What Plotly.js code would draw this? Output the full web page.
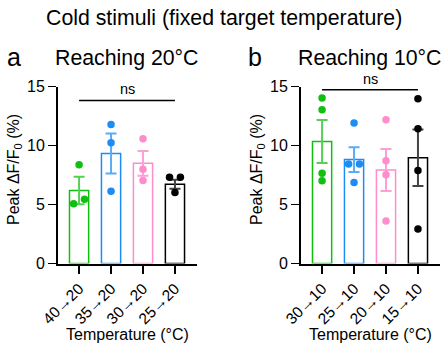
<!DOCTYPE html>
<html>
<head>
<meta charset="utf-8">
<script src="https://cdn.plot.ly/plotly-3.0.1.min.js"></script>
<style>html,body{margin:0;padding:0;background:#fff;}#chart{width:444px;height:348px;}</style>
</head>
<body>
<div id="chart"></div>
<script>
// ---- data ----
const categoriesA = ["40→20", "35→20", "30→20", "25→20"];
const categoriesB = ["30→10", "25→10", "20→10", "15→10"];
const meansA = [6.2, 9.33, 8.5, 6.73];
const semA = [1.17, 1.7, 1.05, 0.38];
const meansB = [10.35, 8.82, 7.93, 8.97];
const semB = [1.83, 1.05, 1.78, 2.4];
const pointsA = [
  [8.37, 5.06, 5.45],
  [11.79, 10.24, 6.13],
  [10.58, 8.0, 7.04],
  [7.32, 7.32, 6.02]
];
const pointsB = [
  [14.03, 13.04, 7.66, 7.03],
  [11.91, 8.45, 8.45, 6.87],
  [12.19, 8.71, 7.52, 3.61],
  [13.98, 11.43, 7.89, 2.93]
];
const sigLabel = ["ns", "ns"];
const sigLevel = [13.83, 14.74];
const panelTitles = ["Reaching 20°C", "Reaching 10°C"];
const panelLetters = ["a", "b"];
const mainTitle = "Cold stimuli (fixed target temperature)";
const yTitle = "Peak ΔF/F<sub>0</sub> (%)";
const xTitle = "Temperature (°C)";

// ---- styles ----
const colors = ["#10bf10", "#1e8cf5", "#ff8ccc", "#000000"];
const errColors = ["#55d055", "#5aacf7", "#ff9fd4", "#444444"];
const FONT = "Liberation Sans, Arial, sans-serif";

function jitter(vals) {
  // spread points that would overlap (values within 0.5)
  const off = vals.map(() => 0);
  const used = vals.map(() => false);
  for (let i = 0; i < vals.length; i++) {
    if (used[i]) continue;
    const grp = [i];
    for (let j = i + 1; j < vals.length; j++) {
      if (!used[j] && Math.abs(vals[j] - vals[i]) < 0.5) grp.push(j);
    }
    if (grp.length > 1) {
      grp.forEach((k, n) => { used[k] = true; off[k] = (n - (grp.length - 1) / 2) * 0.34; });
    }
  }
  return off;
}

const traces = [];
const panels = [
  {cats: categoriesA, means: meansA, sem: semA, pts: pointsA, xa: "x", ya: "y"},
  {cats: categoriesB, means: meansB, sem: semB, pts: pointsB, xa: "x2", ya: "y2"}
];
panels.forEach(p => {
  p.cats.forEach((c, i) => {
    traces.push({
      type: "bar", x: [i], y: [p.means[i]], width: 0.6,
      xaxis: p.xa, yaxis: p.ya,
      marker: {color: "rgba(255,255,255,0)", line: {color: colors[i], width: 1.5}},
      error_y: {type: "data", array: [p.sem[i]], visible: true, color: errColors[i], thickness: 2, width: 5.5},
      showlegend: false, hoverinfo: "skip"
    });
  });
  p.cats.forEach((c, i) => {
    const off = jitter(p.pts[i]);
    traces.push({
      type: "scatter", mode: "markers",
      x: p.pts[i].map((v, k) => i + off[k]), y: p.pts[i],
      xaxis: p.xa, yaxis: p.ya,
      marker: {color: colors[i], size: 7.5},
      cliponaxis: false, showlegend: false, hoverinfo: "skip"
    });
  });
});

function xax(domain, cats) {
  return {
    domain: domain, range: [-0.66, 3.69], fixedrange: true,
    tickmode: "array", tickvals: [0, 1, 2, 3], ticktext: cats,
    tickangle: -45, ticks: "outside", ticklen: 8, tickwidth: 1.5, tickcolor: "#000",
    showline: true, linecolor: "#000", linewidth: 2, showgrid: false, zeroline: false,
    tickfont: {family: FONT, size: 15.5, color: "#000"}
  };
}
function yax(anchor) {
  return {
    domain: [0.2428, 0.7509], range: [0, 15], anchor: anchor,
    tickmode: "array", tickvals: [0, 5, 10, 15],
    ticks: "outside", ticklen: 8, tickwidth: 1.5, tickcolor: "#000",
    showline: true, linecolor: "#000", linewidth: 2, showgrid: false, zeroline: false,
    tickfont: {family: FONT, size: 16, color: "#000"}
  };
}

const px = v => v / 444, py = v => (348 - v) / 348;
const ann = [];
const xCenters = [127.5, 370.5];
const yTitleX = [14, 257];
const letterX = [5, 246];
panels.forEach((p, k) => {
  ann.push({text: panelLetters[k], x: px(letterX[k]), y: py(57), xref: "paper", yref: "paper",
    xanchor: "left", yanchor: "middle", showarrow: false, font: {family: FONT, size: 25, color: "#000"}});
  ann.push({text: panelTitles[k], x: px(xCenters[k] - 1.5), y: py(58), xref: "paper", yref: "paper",
    xanchor: "center", yanchor: "middle", showarrow: false, font: {family: FONT, size: 21.3, color: "#000"}});
  ann.push({text: xTitle, x: px(xCenters[k]), y: py(334), xref: "paper", yref: "paper",
    xanchor: "center", yanchor: "middle", showarrow: false, font: {family: FONT, size: 16, color: "#000"}});
  ann.push({text: yTitle, x: px(yTitleX[k]), y: py(170), xref: "paper", yref: "paper", textangle: -90,
    xanchor: "center", yanchor: "middle", showarrow: false, font: {family: FONT, size: 16, color: "#000"}});
  ann.push({text: sigLabel[k], x: 1.5, y: sigLevel[k], xref: p.xa, yref: p.ya,
    xanchor: "center", yanchor: "bottom", yshift: 1, showarrow: false, font: {family: FONT, size: 14.5, color: "#000"}});
});
ann.push({text: mainTitle, x: px(224), y: py(18), xref: "paper", yref: "paper",
  xanchor: "center", yanchor: "middle", showarrow: false, font: {family: FONT, size: 21.3, color: "#000"}});

const shapes = panels.map((p, k) => ({
  type: "line", xref: p.xa, yref: p.ya, x0: 0, x1: 3, y0: sigLevel[k], y1: sigLevel[k],
  line: {color: "#000", width: 1.5}
}));

const layout = {
  width: 444, height: 348, margin: {l: 0, r: 0, t: 0, b: 0},
  paper_bgcolor: "#fff", plot_bgcolor: "rgba(0,0,0,0)",
  barmode: "overlay", showlegend: false,
  xaxis: Object.assign(xax([0.1306, 0.4437], categoriesA), {anchor: "y"}),
  yaxis: yax("x"),
  xaxis2: Object.assign(xax([0.6779, 0.991], categoriesB), {anchor: "y2"}),
  yaxis2: yax("x2"),
  annotations: ann, shapes: shapes,
  font: {family: FONT, color: "#000"}
};
Plotly.newPlot("chart", traces, layout, {staticPlot: true, displayModeBar: false});
</script>
</body>
</html>
